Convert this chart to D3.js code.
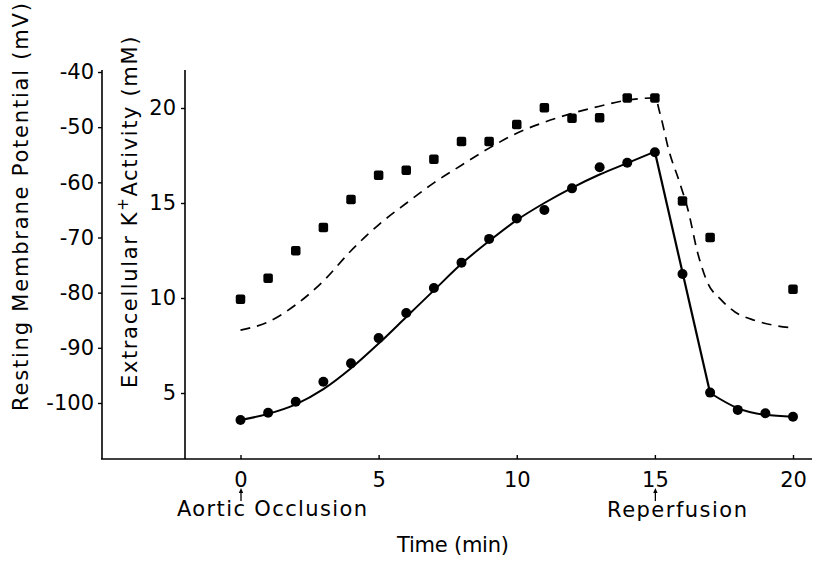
<!DOCTYPE html>
<html>
<head>
<meta charset="utf-8">
<script src="https://cdn.jsdelivr.net/npm/d3@7"></script>
<style>
  html, body { margin: 0; padding: 0; background: #fff; }
  svg { display: block; }
  text { font-family: "DejaVu Sans", sans-serif; fill: #000; }
</style>
</head>
<body>
<script>
// ---- data ----
const timeTicks = [0, 5, 10, 15, 20];
const mvTicks = [-40, -50, -60, -70, -80, -90, -100];
const kTicks = [20, 15, 10, 5];

// Extracellular K+ activity (mM), filled circles
const kTime = [0,1,2,3,4,5,6,7,8,9,10,11,12,13,14,15,16,17,18,19,20];
const kValues = [3.58,3.96,4.54,5.59,6.56,7.89,9.21,10.53,11.86,13.11,14.19,14.63,15.77,16.88,17.12,17.67,11.26,5.02,4.11,3.93,3.75];

// fitted curve for K+ (solid line)
const kFitTime = [0,1,2,3,4,5,6,7,8,9,10,11,12,13,14,15,17,18,19,20];
const kFitValues = [3.58,3.9,4.4,5.2,6.3,7.6,9.0,10.4,11.8,13.0,14.1,15.0,15.8,16.5,17.1,17.7,5.0,4.2,3.85,3.75];

// Resting membrane potential (mV), filled squares
const mvTime = [0,1,2,3,4,5,6,7,8,9,10,11,12,13,14,15,16,17,20];
const mvValues = [-81.2,-77.4,-72.4,-68.2,-63.1,-58.7,-57.8,-55.8,-52.6,-52.6,-49.5,-46.5,-48.4,-48.3,-44.7,-44.7,-63.4,-70.0,-79.4];

// predicted membrane potential (dashed line)
const predTime = [0,1,2,3,4,5,6,7,8,9,10,11,12,13,14,15,15.2,15.5,15.9,16.2,16.55,16.9,17.4,17.9,18.6,19.3,20];
const predValues = [-86.8,-85.3,-82.2,-77.9,-72.4,-67.7,-63.8,-60.1,-56.9,-53.8,-51.1,-49.1,-47.5,-46.2,-45.1,-44.7,-47.8,-54.1,-60.1,-65.0,-72.8,-78.1,-81.3,-83.5,-85.0,-85.9,-86.4];

// ---- layout ----
const W = 818, H = 563;
const svg = d3.select("body").append("svg").attr("width", W).attr("height", H);

const x = d3.scaleLinear().domain([0, 20]).range([240.5, 793]);
const yV = d3.scaleLinear().domain([-100, -40]).range([403, 72]);
const yK = d3.scaleLinear().domain([5, 20]).range([393, 108]);

const axisY = 459;
const outerX = 102, innerX = 185, axisTop = 70;
const fs = 21;

// axis lines
svg.append("line").attr("x1", outerX).attr("x2", outerX).attr("y1", axisTop).attr("y2", axisY)
  .attr("stroke", "#000").attr("stroke-width", 1.6);
svg.append("line").attr("x1", innerX).attr("x2", innerX).attr("y1", axisTop).attr("y2", axisY)
  .attr("stroke", "#000").attr("stroke-width", 1.6);
svg.append("line").attr("x1", outerX - 1).attr("x2", 812).attr("y1", axisY).attr("y2", axisY)
  .attr("stroke", "#000").attr("stroke-width", 1.6);

function styleAxis(g) {
  g.select(".domain").remove();
  g.selectAll(".tick line").attr("stroke", "#000").attr("stroke-width", 1.4);
  g.selectAll(".tick text").attr("font-size", fs);
  g.attr("font-family", null).attr("font-size", null);
}

svg.append("g").attr("transform", `translate(${outerX},0)`)
  .call(d3.axisLeft(yV).tickValues(mvTicks).tickSize(4).tickPadding(4).tickFormat(d => "-" + Math.abs(d)))
  .call(styleAxis);

svg.append("g").attr("transform", `translate(${innerX},0)`)
  .call(d3.axisLeft(yK).tickValues(kTicks).tickSize(4).tickPadding(5).tickFormat(d => d))
  .call(styleAxis);

svg.append("g").attr("transform", `translate(0,${axisY})`)
  .call(d3.axisBottom(x).tickValues(timeTicks).tickSize(-4).tickPadding(13).tickFormat(d => d))
  .call(styleAxis);

// ---- lines ----
const predLine = d3.line().x((d, i) => x(predTime[i])).y(d => yV(d)).curve(d3.curveMonotoneX);
svg.append("path").attr("d", predLine(predValues))
  .attr("fill", "none").attr("stroke", "#000").attr("stroke-width", 1.7)
  .attr("stroke-dasharray", "10,7");

// solid fit: smooth rising, straight drop, smooth tail
const risePts = kFitTime.map((t, i) => [t, kFitValues[i]]).filter(p => p[0] <= 15);
const tailPts = kFitTime.map((t, i) => [t, kFitValues[i]]).filter(p => p[0] >= 17);
const smooth = d3.line().x(p => x(p[0])).y(p => yK(p[1])).curve(d3.curveMonotoneX);
const straight = d3.line().x(p => x(p[0])).y(p => yK(p[1]));
svg.append("path").attr("d", smooth(risePts)).attr("fill", "none").attr("stroke", "#000").attr("stroke-width", 2);
svg.append("path").attr("d", straight([risePts[risePts.length - 1], tailPts[0]])).attr("fill", "none").attr("stroke", "#000").attr("stroke-width", 2.2);
svg.append("path").attr("d", smooth(tailPts)).attr("fill", "none").attr("stroke", "#000").attr("stroke-width", 2);

// ---- markers ----
svg.append("g").selectAll("circle").data(kValues).join("circle")
  .attr("cx", (d, i) => x(kTime[i])).attr("cy", d => yK(d)).attr("r", 5).attr("fill", "#000");

const sq = 9.5;
svg.append("g").selectAll("rect").data(mvValues).join("rect")
  .attr("x", (d, i) => x(mvTime[i]) - sq / 2).attr("y", d => yV(d) - sq / 2)
  .attr("width", sq).attr("height", sq).attr("rx", 2).attr("fill", "#000");

// ---- annotations ----
function upArrow(t) {
  const ax = x(t) + 0.5;
  svg.append("line").attr("x1", ax).attr("x2", ax).attr("y1", 491).attr("y2", 501)
    .attr("stroke", "#000").attr("stroke-width", 1.3);
  svg.append("path").attr("d", `M${ax - 2.2},${493} L${ax},${488} L${ax + 2.2},${493} Z`).attr("fill", "#000");
}
upArrow(0);
upArrow(15);

svg.append("text").attr("x", 177).attr("y", 516).attr("font-size", fs)
  .attr("textLength", 190).attr("lengthAdjust", "spacing").text("Aortic  Occlusion");
svg.append("text").attr("x", 607).attr("y", 517).attr("font-size", fs)
  .attr("textLength", 140).attr("lengthAdjust", "spacing").text("Reperfusion");
svg.append("text").attr("x", 397).attr("y", 552).attr("font-size", fs)
  .attr("textLength", 112).attr("lengthAdjust", "spacing").text("Time (min)");

// y titles
svg.append("text").attr("transform", "translate(28,411) rotate(-90)").attr("font-size", fs)
  .attr("textLength", 408).attr("lengthAdjust", "spacing").text("Resting Membrane Potential  (mV)");

const kt = svg.append("text").attr("transform", "translate(137,388) rotate(-90)").attr("font-size", fs);
kt.append("tspan").text("Extracellular  K");
kt.append("tspan").attr("dy", -9).attr("font-size", 15).text("+");
kt.append("tspan").attr("dy", 9).text("Activity (mM)");
const ktLen = kt.node().getComputedTextLength();
kt.attr("letter-spacing", ((353 - ktLen) / 29).toFixed(2));
</script>
</body>
</html>
